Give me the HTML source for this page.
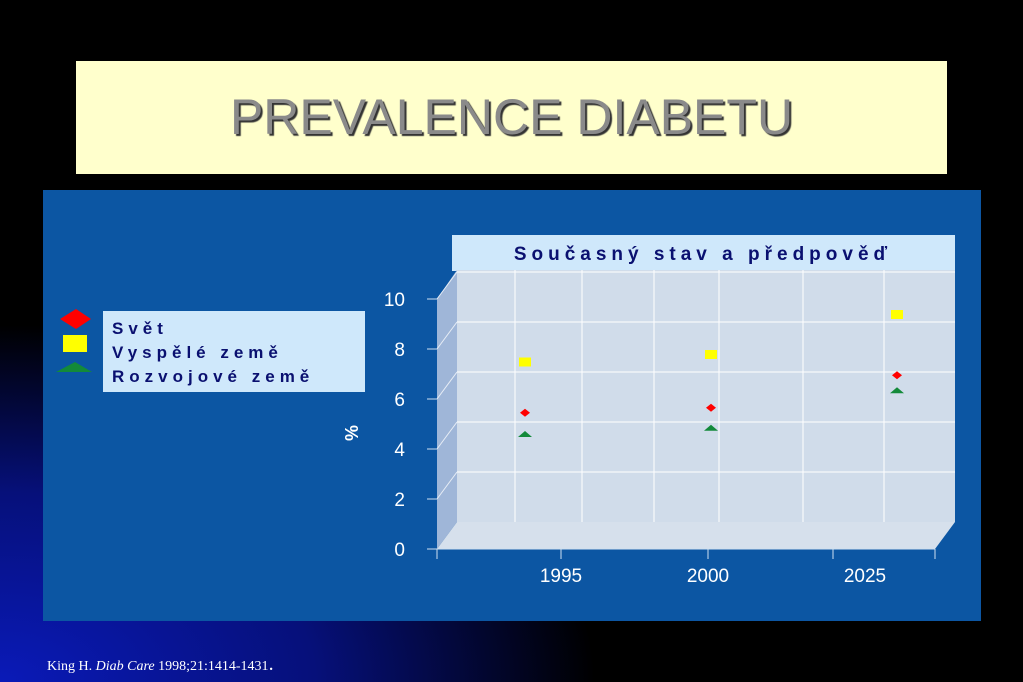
<!DOCTYPE html>
<html><head><meta charset="utf-8"><style>
body{margin:0;width:1023px;height:682px;overflow:hidden;background:#000;font-family:"Liberation Sans",sans-serif;position:relative}
#bg{position:absolute;left:0;top:0;width:1023px;height:682px;background:radial-gradient(ellipse 700px 420px at 0px 682px,#0a1ab8 0%,#06107a 45%,#000 85%)}
#title{position:absolute;left:76px;top:61px;width:871px;height:113px;background:#ffffcc;text-align:center;line-height:113px;font-size:50px;color:#8a8a8a;text-shadow:2px 2px 1px #333}
#panel{position:absolute;left:43px;top:190px;width:938px;height:431px;background:#0c56a3}
#legend{position:absolute;left:103px;top:311px;width:262px;height:81px;background:#cfe8fb;color:#0a1070;font-weight:bold;font-size:17px;letter-spacing:5px;line-height:24px;padding:6px 0 0 9px;box-sizing:border-box}
#cite{position:absolute;left:47px;top:656px;font-family:"Liberation Serif",serif;font-size:14px;color:#fff}
</style></head><body>
<div id="bg"></div>
<div id="title">PREVALENCE DIABETU</div>
<div id="panel"></div>
<div id="legend"><div>Svět</div><div>Vyspělé země</div><div>Rozvojové země</div></div>
<svg width="1023" height="682" style="position:absolute;left:0;top:0">
<polygon points="60,319 76,309 91,319 76,329" fill="#f00"/>
<rect x="63" y="335" width="24" height="17" fill="#ff0"/>
<polygon points="56,372 75,362 92,372" fill="#138a3a"/>
<rect x="452" y="235" width="503" height="36" fill="#cfe8fb"/>
<text x="703" y="260" text-anchor="middle" font-size="19" font-weight="bold" fill="#0a1070" letter-spacing="5">Současný stav a předpověď</text>
<g id="plot"></g>
<text x="358" y="433" transform="rotate(-90 358 433)" text-anchor="middle" font-size="18" fill="#fff" font-weight="bold">%</text>
<text x="47" y="670" font-family="Liberation Serif" font-size="14" fill="#fff">King H. <tspan font-style="italic">Diab Care</tspan> 1998;21:1414-1431<tspan font-size="20">.</tspan></text>
</svg>
<script>
const categories=["1995","2000","2025"];
const world=[5.45,5.65,6.95];
const developed=[7.5,7.8,9.4];
const developing=[4.6,4.85,6.35];
const yTicks=[0,2,4,6,8,10];
const ns="http://www.w3.org/2000/svg";
const g=document.getElementById('plot');
function y(v){return 549-v*25;}
function xc(i){return 525+i*186;}
const dx=20,dy=-27,L=437,R=935;
function mk(t,a){const e=document.createElementNS(ns,t);for(const k in a)e.setAttribute(k,a[k]);g.appendChild(e);return e;}
let e;
e=mk('polygon',{points:`${L},${y(0)} ${L+dx},${y(0)+dy} ${L+dx},${y(10)+dy-2} ${L},${y(10)}`,fill:'#9fb6d8'});

e=mk('rect',{x:L+dx,y:y(10)+dy-2,width:R-L,height:y(0)-y(10)+2,fill:'#d0dcea'});

e=mk('polygon',{points:`${L},${y(0)} ${L+dx},${y(0)+dy} ${R+dx},${y(0)+dy} ${R},${y(0)}`,fill:'#d6e0ec'});

yTicks.forEach(v=>{
 if(v>0){e=mk('line',{x1:L+dx,x2:R+dx,y1:y(v)+dy,y2:y(v)+dy,stroke:'#fff','stroke-width':1});
 
 e=mk('line',{x1:L,x2:L+dx,y1:y(v),y2:y(v)+dy,stroke:'#e8eef6','stroke-width':1});
 }
 e=mk('line',{x1:L-10,x2:L,y1:y(v),y2:y(v),stroke:'#cfe0f0'});
 
 e=mk('text',{x:L-32,y:y(v)+7,'text-anchor':'end',fill:'#fff','font-size':19});e.textContent=v;
 
});
[0,1,2,3,4,5].forEach(i=>{const gx=[515,582,654,719,803,884][i];
 e=mk('line',{x1:gx,x2:gx,y1:y(10)+dy-2,y2:y(0)+dy,stroke:'#fff'});
 });
[437,561,708,833,935].forEach(tx=>{e=mk('line',{x1:tx,x2:tx,y1:y(0),y2:y(0)+10,stroke:'#cfe0f0'});
 });
e=mk('line',{x1:L,x2:R,y1:y(0),y2:y(0),stroke:'#cfe0f0'});
categories.forEach((c,i)=>{
 e=mk('text',{x:[561,708,865][i],y:582,'text-anchor':'middle',fill:'#fff','font-size':19});e.textContent=c;
 
 const cx=xc(i);
 e=mk('rect',{x:cx-6,y:y(developed[i])-4,width:12,height:9,fill:'#ff0'});
 
 let yy=y(world[i]);
 e=mk('polygon',{points:`${cx-5},${yy} ${cx},${yy-4} ${cx+5},${yy} ${cx},${yy+4}`,fill:'#f00'});
 
 yy=y(developing[i]);
 e=mk('polygon',{points:`${cx-7},${yy+3} ${cx},${yy-3} ${cx+7},${yy+3}`,fill:'#138a3a'});
 
});
</script>
</body></html>
